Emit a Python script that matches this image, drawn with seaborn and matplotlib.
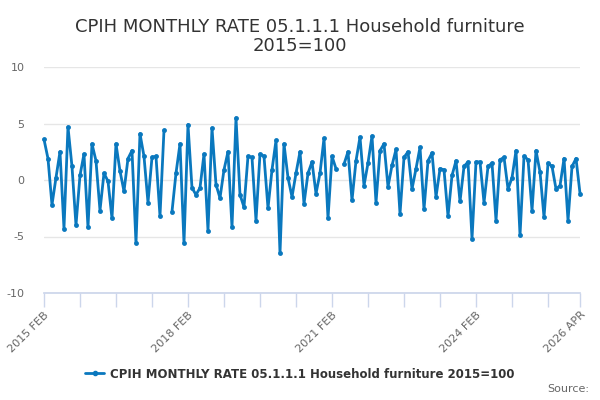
import numpy as np
import pandas as pd
import matplotlib
matplotlib.use("Agg")
import matplotlib.pyplot as plt
import seaborn as sns

# monthly rate, 2015 FEB .. 2026 APR (NaN = no value published)
rate = [
    3.6, 1.9, -2.2, 0.2, 2.5, -4.3, 4.7, 1.2, -4.0, 0.4, 2.3, -4.2,
    3.2, 1.7, -2.7, 0.6, -0.1, -3.4, 3.2, 0.8, -1.0, 1.9, 2.6, -5.6,
    4.1, 2.1, -2.0, 2.0, 2.1, -3.2, 4.4, np.nan, -2.8, 0.6, 3.2, -5.6,
    4.9, -0.7, -1.3, -0.7, 2.3, -4.5, 4.6, -0.4, -1.6, 0.9, 2.5, -4.2,
    5.5, -1.3, -2.4, 2.1, 2.0, -3.6, 2.3, 2.1, -2.5, 0.9, 3.5, -6.5,
    3.2, 0.2, -1.5, 0.6, 2.5, -2.1, 0.6, 1.6, -1.2, 0.6, 3.7, -3.4,
    2.1, 1.0, np.nan, 1.4, 2.5, -1.8, 1.7, 3.8, -0.5, 1.5, 3.9, -2.0,
    2.6, 3.2, -0.6, 1.3, 2.7, -3.0, 2.0, 2.5, -0.8, 1.0, 2.9, -2.6,
    1.7, 2.4, -1.5, 1.0, 0.9, -3.2, 0.4, 1.7, -1.9, 1.2, 1.6, -5.2,
    1.6, 1.6, -2.0, 1.2, 1.5, -3.6, 1.8, 2.0, -0.8, 0.2, 2.6, -4.9,
    2.1, 1.8, -2.7, 2.6, 0.7, -3.3, 1.5, 1.2, -0.8, -0.5, 1.9, -3.6,
    1.2, 1.9, -1.2,
]
months = pd.period_range("2015-02", "2026-04", freq="M")
series_name = "CPIH MONTHLY RATE 05.1.1.1 Household furniture 2015=100"
y_ticks = [10, 5, 0, -5, -10]

df = pd.DataFrame({"idx": np.arange(len(rate)), "rate": rate})
blue = "#0a78be"

sns.set_theme(style="white")
plt.rcParams["font.family"] = ["DejaVu Sans"]

fig = plt.figure(figsize=(6, 4), dpi=100)
ax = fig.add_axes([0.0733, 0.2675, 0.8934, 0.565])

sns.lineplot(data=df, x="idx", y="rate", ax=ax, color=blue, linewidth=2,
             marker="o", markersize=3.5, markeredgewidth=0, clip_on=False)

# break the line across missing months
for ln in ax.lines:
    ln.set_data(df["idx"].values, df["rate"].values)

# spines first: set_position resets the ticks
for s in ["top", "right", "left"]:
    ax.spines[s].set_visible(False)
ax.spines["bottom"].set_color("#ccd6eb")
ax.spines["bottom"].set_position(("data", -10))
ax.set_xlabel("")
ax.set_ylabel("")

ax.set_xlim(0, len(rate) - 1)
ax.set_ylim(-10, 10)
ax.set_yticks(y_ticks)
ax.set_yticklabels([str(v) for v in y_ticks], fontsize=8, color="#666666")
for v in y_ticks:
    ax.axhline(v, color="#e6e6e6", linewidth=1, zorder=0)

tick_pos = list(range(0, len(rate) - 1, 9)) + [len(rate) - 1]
labels = []
for p in tick_pos:
    if p % 36 == 0 or p == len(rate) - 1:
        labels.append(months[p].strftime("%Y %b").upper())
    else:
        labels.append("")
ax.set_xticks(tick_pos)
ax.set_xticklabels(labels, fontsize=8, color="#666666", rotation=45,
                   ha="right", rotation_mode="anchor")
ax.tick_params(axis="x", length=10, width=1, color="#ccd6eb", bottom=True, pad=2)
ax.tick_params(axis="y", length=0, pad=14)

fig.text(0.5, 0.955, "CPIH MONTHLY RATE 05.1.1.1 Household furniture\n2015=100",
         ha="center", va="top", fontsize=13, color="#333333", linespacing=1.1)

handle = plt.Line2D([], [], color=blue, linewidth=2, marker="o", markersize=3)
fig.legend([handle], [series_name], loc="center", bbox_to_anchor=(0.5, 0.065),
           frameon=False, handlelength=1.6, handletextpad=0.5,
           prop={"size": 8.5, "weight": "bold"}, labelcolor="#333333")
fig.text(0.982, 0.015, "Source:", ha="right", va="bottom", fontsize=8, color="#666666")

fig.savefig("out.png", dpi=100)
